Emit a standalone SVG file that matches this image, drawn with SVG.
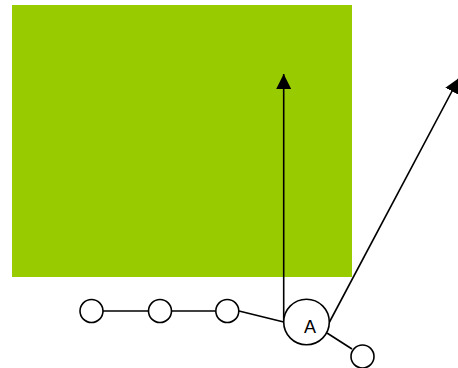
<svg xmlns="http://www.w3.org/2000/svg" width="458" height="368" viewBox="0 0 458 368">
<defs>
<style>
.node{fill:#fff;stroke:#000;stroke-width:1.6}
.edge{stroke:#000;stroke-width:1.6;fill:none}
.lbl{font-family:"Liberation Sans",Arial,sans-serif;font-size:18px;fill:#000;text-anchor:middle}
</style>
<marker id="arr" markerUnits="userSpaceOnUse" markerWidth="16" markerHeight="16" viewBox="0 0 16 16" refX="15" refY="7.5" orient="auto">
<path d="M0,0 L15,7.5 L0,15 Z" fill="#000"/>
</marker>
</defs>
<rect id="area" x="12" y="5" width="340" height="272" fill="#99cc00"/>
<g id="connectors">
<line class="edge" x1="103" y1="311" x2="148.5" y2="311"/>
<line class="edge" x1="171.5" y1="311" x2="215.5" y2="311"/>
<line class="edge" x1="239" y1="311" x2="283.7" y2="322"/>
<line class="edge" x1="327" y1="333" x2="352" y2="349"/>
<line class="edge" x1="283.7" y1="322" x2="283.7" y2="74" marker-end="url(#arr)"/>
<line class="edge" x1="329.5" y1="322" x2="459" y2="78" marker-end="url(#arr)"/>
</g>
<g id="n1"><circle class="node" cx="91.5" cy="311" r="11.5"/></g>
<g id="n2"><circle class="node" cx="160" cy="311" r="11.5"/></g>
<g id="n3"><circle class="node" cx="227.3" cy="311" r="11.5"/></g>
<g id="nA"><circle class="node" cx="306.5" cy="322" r="22.8"/><text class="lbl" x="310" y="332.5">A</text></g>
<g id="n5"><circle class="node" cx="362.5" cy="356.5" r="11.5"/></g>
</svg>
